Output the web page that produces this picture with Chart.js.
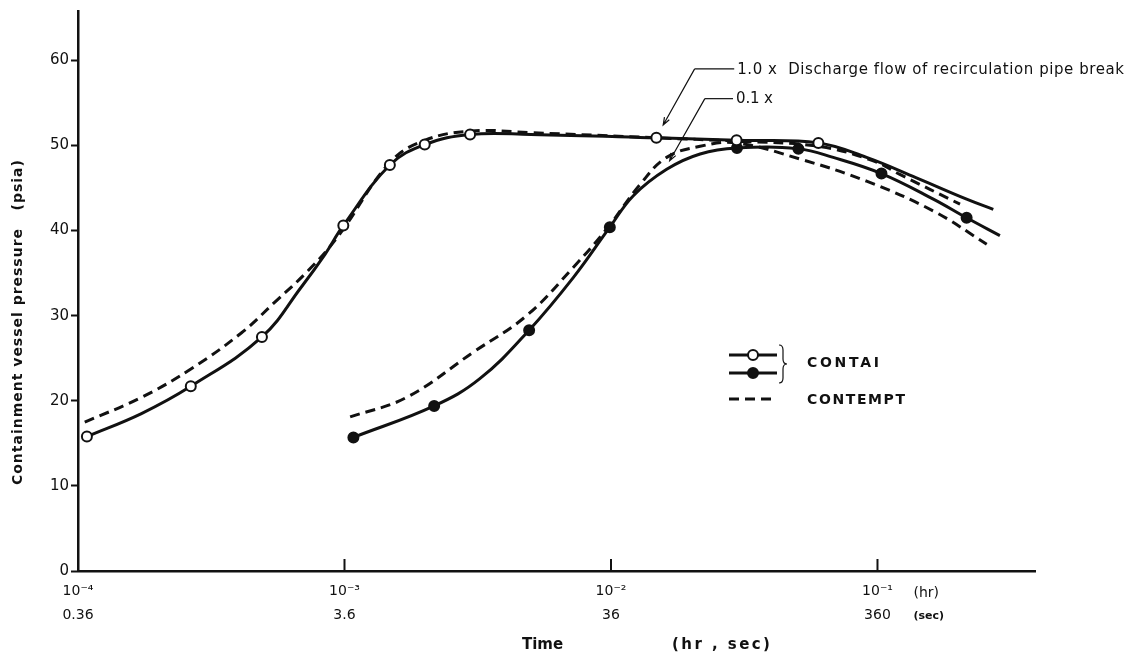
<!DOCTYPE html>
<html lang="en">
<head>
  <meta charset="UTF-8" />
  <title>Containment vessel pressure</title>
  <script src="https://cdn.jsdelivr.net/npm/chart.js@4.4.0/dist/chart.umd.min.js"></script>
  <style>
    body { margin: 0; background: #fff; }
    .chart-box { position: relative; width: 1135px; height: 661px; }
  </style>
</head>
<body>
  <div class="chart-box"><canvas id="pressureChart"></canvas></div>
  <script>
    // time in hr, pressure in psia
    // CONTAI, 1.0 x discharge flow (open circles)
    const contaiFullTime = [1.08e-4, 1.73e-4, 2.65e-4, 4.9e-4, 6.9e-4, 8.45e-4, 9.9e-4, 1.48e-3, 2.0e-3, 2.96e-3, 5.0e-3, 0.0148, 0.0296, 0.06, 0.091, 0.14, 0.216, 0.272];
    const contaiFullPress = [15.8, 18.5, 21.7, 27.5, 33.4, 37.2, 40.6, 47.7, 50.1, 51.3, 51.3, 50.9, 50.6, 50.3, 48.6, 46.2, 43.7, 42.5];
    const contaiFullMarkTime = [1.08e-4, 2.65e-4, 4.9e-4, 9.9e-4, 1.48e-3, 2.0e-3, 2.96e-3, 0.0148, 0.0296, 0.06];
    const contaiFullMarkPress = [15.8, 21.7, 27.5, 40.6, 47.7, 50.1, 51.3, 50.9, 50.6, 50.3];

    // CONTAI, 0.1 x discharge flow (filled circles)
    const contaiTenthTime = [1.08e-3, 2.17e-3, 3.22e-3, 4.93e-3, 7.23e-3, 9.9e-3, 0.01213, 0.01618, 0.0216, 0.0297, 0.0505, 0.0682, 0.1035, 0.162, 0.216, 0.288];
    const contaiTenthPress = [15.7, 19.4, 22.6, 28.3, 34.5, 40.4, 44.1, 47.2, 49.0, 49.7, 49.6, 48.6, 46.7, 43.7, 41.5, 39.4];
    const contaiTenthMarkTime = [1.08e-3, 2.17e-3, 4.93e-3, 9.9e-3, 0.0297, 0.0505, 0.1035, 0.216];
    const contaiTenthMarkPress = [15.7, 19.4, 28.3, 40.4, 49.7, 49.6, 46.7, 41.5];

    // CONTEMPT (dashed), 1.0 x and 0.1 x
    const contemptFullTime = [1.06e-4, 1.73e-4, 2.67e-4, 4.11e-4, 5.48e-4, 7.31e-4, 9.5e-4, 1.48e-3, 2.0e-3, 3.0e-3, 5.0e-3, 0.0148, 0.0297, 0.06, 0.0964, 0.1213, 0.204];
    const contemptFullPress = [17.5, 20.4, 23.8, 28.0, 31.6, 35.3, 39.4, 48.0, 50.6, 51.7, 51.5, 50.9, 50.5, 49.9, 48.2, 46.6, 43.1];
    const contemptTenthTime = [1.05e-3, 1.71e-3, 3.04e-3, 4.82e-3, 7.23e-3, 9.64e-3, 0.01285, 0.01618, 0.0216, 0.0295, 0.0513, 0.091, 0.162, 0.257];
    const contemptTenthPress = [18.1, 20.4, 25.7, 30.0, 35.7, 40.2, 45.4, 48.6, 49.9, 50.3, 48.4, 45.8, 42.3, 38.4];

    // axis ticks
    const xTickValues = [1e-4, 1e-3, 1e-2, 1e-1];
    const xTickHr = ['10\u207B\u2074', '10\u207B\u00B3', '10\u207B\u00B2', '10\u207B\u00B9'];
    const xTickSec = ['0.36', '3.6', '36', '360'];
    const yTickStep = 10;

    const FONT = '"DejaVu Sans", sans-serif';

    function pts(xs, ys) {
      return xs.map((x, i) => ({ x, y: ys[i] }));
    }

    function curve(xs, ys, dashed) {
      return {
        data: pts(xs, ys),
        showLine: true,
        borderColor: '#111',
        borderWidth: 3,
        borderDash: dashed ? [10, 6] : [],
        pointRadius: 0,
        tension: 0.4,
        order: 2
      };
    }

    function markers(xs, ys, fill) {
      return {
        data: pts(xs, ys),
        showLine: false,
        pointRadius: 5,
        pointBorderWidth: 2,
        pointBorderColor: '#111',
        pointBackgroundColor: fill,
        order: 1
      };
    }

    // draw text stretched (by letter spacing) to a given width
    function spacedText(ctx, text, x, y, width) {
      ctx.letterSpacing = '0px';
      const w = ctx.measureText(text).width;
      ctx.letterSpacing = ((width - w) / (text.length - 1)).toFixed(2) + 'px';
      ctx.fillText(text, x, y);
      ctx.letterSpacing = '0px';
    }

    function arrow(ctx, x0, y0, x1, y1) {
      const a = Math.atan2(y1 - y0, x1 - x0);
      ctx.beginPath();
      ctx.moveTo(x0, y0);
      ctx.lineTo(x1, y1);
      ctx.moveTo(x1 - 8 * Math.cos(a - 0.35), y1 - 8 * Math.sin(a - 0.35));
      ctx.lineTo(x1, y1);
      ctx.lineTo(x1 - 8 * Math.cos(a + 0.35), y1 - 8 * Math.sin(a + 0.35));
      ctx.stroke();
    }

    const extras = {
      id: 'extras',
      afterDraw(chart) {
        const ctx = chart.ctx;
        const xs = chart.scales.x;
        const ys = chart.scales.y;
        const area = chart.chartArea;
        ctx.save();
        ctx.strokeStyle = '#111';
        ctx.fillStyle = '#111';

        // inward decade ticks on the time axis
        ctx.lineWidth = 2;
        xTickValues.forEach(v => {
          const px = xs.getPixelForValue(v);
          ctx.beginPath();
          ctx.moveTo(px, area.bottom);
          ctx.lineTo(px, area.bottom - 12);
          ctx.stroke();
        });

        // unit labels next to the last tick
        const p1 = xs.getPixelForValue(1e-1);
        ctx.font = '14px ' + FONT;
        ctx.textBaseline = 'middle';
        ctx.textAlign = 'left';
        ctx.fillText('(hr)', p1 + 36, 593);
        ctx.font = 'bold 11px ' + FONT;
        ctx.fillText('(sec)', p1 + 36, 616);

        // axis titles
        ctx.font = 'bold 15px ' + FONT;
        ctx.fillText('Time', 522, 645);
        spacedText(ctx, '(hr , sec)', 672, 645, 98);
        ctx.save();
        ctx.translate(18, 485);
        ctx.rotate(-Math.PI / 2);
        ctx.font = 'bold 14px ' + FONT;
        spacedText(ctx, 'Containment vessel pressure   (psia)', 0, 0, 325);
        ctx.restore();

        // legend
        ctx.lineWidth = 3;
        ctx.setLineDash([]);
        [[355, '#fff'], [373, '#111']].forEach(([ly, fill]) => {
          ctx.beginPath();
          ctx.moveTo(729, ly);
          ctx.lineTo(777, ly);
          ctx.stroke();
          ctx.beginPath();
          ctx.arc(753, ly, 5, 0, Math.PI * 2);
          ctx.fillStyle = fill;
          ctx.fill();
          ctx.lineWidth = 2;
          ctx.stroke();
          ctx.lineWidth = 3;
        });
        ctx.fillStyle = '#111';
        ctx.setLineDash([10, 6]);
        ctx.beginPath();
        ctx.moveTo(729, 399);
        ctx.lineTo(777, 399);
        ctx.stroke();
        ctx.setLineDash([]);
        // brace
        ctx.lineWidth = 1.2;
        ctx.beginPath();
        ctx.moveTo(779, 345);
        ctx.quadraticCurveTo(783, 345, 783, 350);
        ctx.lineTo(783, 359);
        ctx.quadraticCurveTo(783, 364, 787, 364);
        ctx.quadraticCurveTo(783, 364, 783, 369);
        ctx.lineTo(783, 378);
        ctx.quadraticCurveTo(783, 383, 779, 383);
        ctx.stroke();
        ctx.font = 'bold 14px ' + FONT;
        spacedText(ctx, 'CONTAI', 807, 363, 72);
        spacedText(ctx, 'CONTEMPT', 807, 400, 98);

        // leader lines
        ctx.lineWidth = 1.2;
        const tip1 = [xs.getPixelForValue(0.0157), ys.getPixelForValue(52.4)];
        const knee1 = [xs.getPixelForValue(0.0206), ys.getPixelForValue(59.0)];
        const end1 = xs.getPixelForValue(0.0290);
        ctx.beginPath();
        ctx.moveTo(end1, knee1[1]);
        ctx.lineTo(knee1[0], knee1[1]);
        ctx.stroke();
        arrow(ctx, knee1[0], knee1[1], tip1[0], tip1[1]);

        const tip2 = [xs.getPixelForValue(0.0166), ys.getPixelForValue(48.2)];
        const knee2 = [xs.getPixelForValue(0.0225), ys.getPixelForValue(55.5)];
        const end2 = xs.getPixelForValue(0.0287);
        ctx.beginPath();
        ctx.moveTo(end2, knee2[1]);
        ctx.lineTo(knee2[0], knee2[1]);
        ctx.stroke();
        arrow(ctx, knee2[0], knee2[1], tip2[0], tip2[1]);

        ctx.font = '15px ' + FONT;
        ctx.textBaseline = 'middle';
        spacedText(ctx, '1.0 x  Discharge flow of recirculation pipe break', end1 + 3, knee1[1] + 1, 387);
        spacedText(ctx, '0.1 x', end2 + 3, knee2[1], 37);
        ctx.restore();
      }
    };

    const ctx = document.getElementById('pressureChart').getContext('2d');
    new Chart(ctx, {
      type: 'scatter',
      data: {
        datasets: [
          curve(contaiFullTime, contaiFullPress, false),
          curve(contaiTenthTime, contaiTenthPress, false),
          curve(contemptFullTime, contemptFullPress, true),
          curve(contemptTenthTime, contemptTenthPress, true),
          markers(contaiFullMarkTime, contaiFullMarkPress, '#fff'),
          markers(contaiTenthMarkTime, contaiTenthMarkPress, '#111')
        ]
      },
      options: {
        responsive: true,
        maintainAspectRatio: false,
        animation: false,
        layout: { padding: { left: 0, right: 100, top: 10, bottom: 0 } },
        plugins: {
          legend: { display: false },
          tooltip: { enabled: false }
        },
        scales: {
          x: {
            type: 'logarithmic',
            min: 1e-4,
            max: 0.39,
            afterBuildTicks: scale => {
              scale.ticks = xTickValues.map(v => ({ value: v }));
            },
            afterFit: scale => { scale.height = 90; },
            grid: { display: false, drawTicks: false },
            border: { display: true, color: '#111', width: 2.5 },
            ticks: {
              autoSkip: false,
              maxRotation: 0,
              padding: 8,
              color: '#111',
              font: { family: FONT, size: 14, lineHeight: 1.75 },
              callback: (value, i) => [xTickHr[i], xTickSec[i]]
            }
          },
          y: {
            min: 0,
            max: 65.8,
            afterFit: scale => { scale.width = 78; },
            grid: { display: true, drawOnChartArea: false, tickLength: 7, tickWidth: 2, color: '#111' },
            border: { display: true, color: '#111', width: 2.5 },
            ticks: {
              stepSize: yTickStep,
              includeBounds: false,
              padding: 2,
              color: '#111',
              font: { family: FONT, size: 15 }
            }
          }
        }
      },
      plugins: [extras]
    });
  </script>
</body>
</html>
